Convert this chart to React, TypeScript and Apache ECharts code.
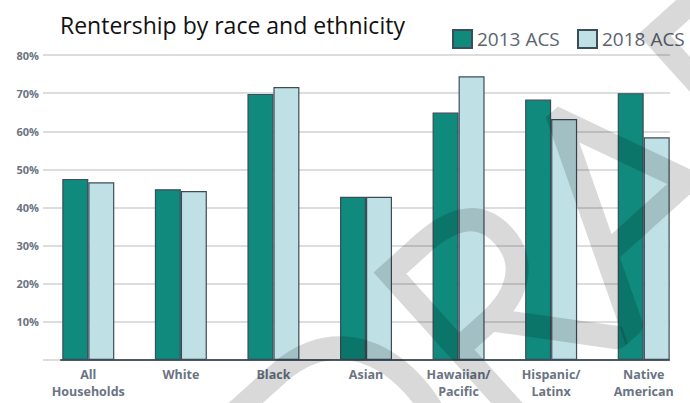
import React, { useEffect, useRef } from "react";
import * as echarts from "echarts";

const categories = [
  "All\nHouseholds",
  "White",
  "Black",
  "Asian",
  "Hawaiian/\nPacific",
  "Hispanic/\nLatinx",
  "Native\nAmerican",
];
const acs2013 = [47.5, 44.8, 69.8, 42.8, 64.9, 68.3, 70.0];
const acs2018 = [46.6, 44.3, 71.6, 42.8, 74.4, 63.2, 58.4];
const seriesNames = ["2013 ACS", "2018 ACS"];
const titleText = "Rentership by race and ethnicity";
const watermarkText = "DRAFT";

export default function App() {
  const ref = useRef<HTMLDivElement>(null);
  useEffect(() => {
    if (!ref.current) return;
    const chart = echarts.init(ref.current, undefined, { renderer: "svg" });
    const labelColor = "#6a7483";
    const font = "'Open Sans', sans-serif";
    const legendBase = {
      top: 29,
      padding: 0,
      itemWidth: 19,
      itemHeight: 18,
      icon: "rect",
      textStyle: { fontFamily: font, fontSize: 19, color: "#5a6470" },
    };
    chart.setOption({
      animation: false,
      legend: [
        { ...legendBase, left: 452, data: [seriesNames[0]] },
        { ...legendBase, left: 577, data: [seriesNames[1]] },
      ],
      grid: [
        { left: 43, right: 20, top: 55, bottom: 43 },
        { left: 42, right: 0, top: 55, bottom: 43 },
        { left: 61, right: 21, top: 55, bottom: 43 },
      ],
      xAxis: [
        { type: "value", gridIndex: 0, show: false, min: 0, max: 1 },
        {
          type: "category",
          gridIndex: 1,
          data: categories,
          axisLine: { show: false },
          axisTick: { show: false },
          axisLabel: {
            interval: 0,
            margin: 6,
            fontFamily: font,
            fontWeight: "bold",
            fontSize: 12.5,
            lineHeight: 17,
            color: labelColor,
          },
        },
        {
          type: "value",
          gridIndex: 2,
          min: 0,
          max: 1,
          axisLine: { show: true, lineStyle: { color: "#4b5a66", width: 2 } },
          axisTick: { show: false },
          axisLabel: { show: false },
          splitLine: { show: false },
        },
      ],
      yAxis: [
        {
          type: "value",
          gridIndex: 0,
          min: 0,
          max: 80,
          interval: 10,
          axisLine: { show: false },
          axisTick: { show: false },
          splitLine: { lineStyle: { color: "#d2d2d2", width: 1.5 } },
          axisLabel: {
            margin: 4,
            fontFamily: font,
            fontWeight: "bold",
            fontSize: 11,
            color: labelColor,
            padding: [0, 0, 6, 0],
            formatter: (v: number) => (v === 0 ? "" : v + "%"),
          },
        },
        { type: "value", gridIndex: 1, min: 0, max: 80, show: false },
        { type: "value", gridIndex: 2, min: 0, max: 80, show: false },
      ],
      series: [
        {
          name: seriesNames[0],
          type: "bar",
          xAxisIndex: 1,
          yAxisIndex: 1,
          data: acs2013,
          barWidth: 26,
          barGap: "0%",
          itemStyle: { color: "#0f8a7c", borderColor: "#3b4d58", borderWidth: 1.2 },
        },
        {
          name: seriesNames[1],
          type: "bar",
          xAxisIndex: 1,
          yAxisIndex: 1,
          data: acs2018,
          barWidth: 26,
          barGap: "0%",
          itemStyle: { color: "#bfe1e5", borderColor: "#3b4d58", borderWidth: 1.2 },
        },
      ],
      graphic: [
        {
          type: "text",
          x: 60,
          y: 24.5,
          silent: true,
          style: {
            text: titleText,
            font: "normal 23px 'Open Sans'",
            fill: "#111",
            align: "left",
            verticalAlign: "middle",
          },
        },
        {
          type: "text",
          x: 596,
          y: 208,
          rotation: (42 * Math.PI) / 180,
          z: 100,
          silent: true,
          style: {
            text: watermarkText,
            font: "100 290px Lato",
            fill: "none",
            stroke: "#000",
            lineWidth: 20,
            opacity: 0.15,
            align: "center",
            verticalAlign: "middle",
          },
        },
      ],
    });
    return () => chart.dispose();
  }, []);
  return (
    <div
      ref={ref}
      style={{ position: "absolute", left: 0, top: 0, width: 690, height: 403 }}
    />
  );
}
